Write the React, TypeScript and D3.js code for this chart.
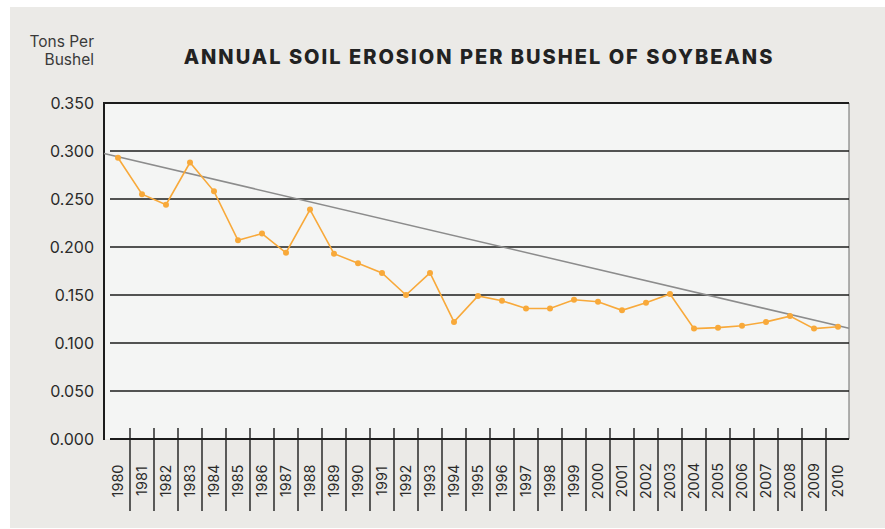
import React from 'react'
import * as d3 from 'd3'

// values
const years = [
  '1980', '1981', '1982', '1983', '1984', '1985', '1986', '1987', '1988', '1989',
  '1990', '1991', '1992', '1993', '1994', '1995', '1996', '1997', '1998', '1999',
  '2000', '2001', '2002', '2003', '2004', '2005', '2006', '2007', '2008', '2009', '2010',
]
const erosion = [
  0.293, 0.255, 0.244, 0.288, 0.258, 0.207, 0.214, 0.194, 0.239, 0.193,
  0.183, 0.173, 0.15, 0.173, 0.122, 0.149, 0.144, 0.136, 0.136, 0.145,
  0.143, 0.134, 0.142, 0.151, 0.115, 0.116, 0.118, 0.122, 0.128, 0.115, 0.117,
]
// trend line value at the first and the last year
const trendYears = [1980, 2010]
const trendValues = [0.294, 0.118]
const yTicks = [0, 0.05, 0.1, 0.15, 0.2, 0.25, 0.3, 0.35]

const title = 'ANNUAL SOIL EROSION PER BUSHEL OF SOYBEANS'
const unitLines = ['Tons Per', 'Bushel']

const W = 885
const H = 529
const plot = { left: 104, right: 849, top: 103, bottom: 439 }
const font = 'Inter, "Noto Sans", sans-serif'

const App: React.FC = () => {
  const x = d3.scaleBand<string>().domain(years).range([106, 850])
  const step = x.step()
  const y = d3.scaleLinear().domain([0, 0.35]).range([plot.bottom, plot.top])

  // year as number -> pixel, used to stretch the trend line to the plot edges
  const xYear = d3
    .scaleLinear()
    .domain([+years[0], +years[years.length - 1]])
    .range([x(years[0])! + step / 2, x(years[years.length - 1])! + step / 2])
  const trend = d3.scaleLinear().domain(trendYears).range(trendValues)
  const tA = xYear.invert(plot.left)
  const tB = xYear.invert(plot.right)

  const line = d3
    .line<number>()
    .x((_, i) => x(years[i])! + step / 2)
    .y((d) => y(d))

  const orange = '#f8a93a'

  return (
    <svg
      width={W}
      height={H}
      style={{ position: 'absolute', left: 0, top: 0 }}
      fontFamily={font}
    >
      <rect x={0} y={0} width={W} height={H} fill="#fff" />
      <rect x={10} y={7} width={W - 10} height={H - 8} fill="#ebeae7" />

      {/* title and unit */}
      <text
        x={479}
        y={64}
        textAnchor="middle"
        fontSize={20}
        fontWeight={800}
        letterSpacing={2}
        fill="#222"
      >
        {title}
      </text>
      {unitLines.map((t, i) => (
        <text key={t} x={94} y={47 + i * 18} textAnchor="end" fontSize={15.5} fill="#3a3a3a">
          {t}
        </text>
      ))}

      {/* plot area */}
      <rect
        x={plot.left}
        y={plot.top}
        width={plot.right - plot.left}
        height={plot.bottom - plot.top}
        fill="#f4f5f4"
      />
      <line x1={plot.right} x2={plot.right} y1={plot.top} y2={plot.bottom} stroke="#6b6b6b" strokeWidth={1} />

      {/* gridlines */}
      {yTicks.map((v) => (
        <line
          key={v}
          x1={v === 0.35 ? plot.left : plot.left + 6}
          x2={plot.right}
          y1={y(v)}
          y2={y(v)}
          stroke="#1c1c1c"
          strokeWidth={v === 0.35 || v === 0 ? 2 : 1.6}
        />
      ))}
      <line x1={plot.left} x2={plot.left} y1={plot.top - 1} y2={plot.bottom + 1} stroke="#1c1c1c" strokeWidth={2} />

      {/* y labels */}
      {yTicks.map((v) => (
        <text key={v} x={94} y={y(v) + 6} textAnchor="end" fontSize={16} fill="#2a2a2a">
          {d3.format('.3f')(v)}
        </text>
      ))}

      {/* x ticks between the years */}
      {years.slice(1).map((yr) => (
        <line
          key={yr}
          x1={x(yr)!}
          x2={x(yr)!}
          y1={428}
          y2={511}
          stroke="#1c1c1c"
          strokeWidth={1.4}
        />
      ))}
      {years.map((yr) => (
        <text
          key={yr}
          transform={`translate(${x(yr)! + step / 2 + 5},${481}) rotate(-90)`}
          textAnchor="middle"
          fontSize={14.5}
          fill="#2a2a2a"
        >
          {yr}
        </text>
      ))}

      {/* trend line */}
      <line
        x1={xYear(tA)}
        x2={xYear(tB)}
        y1={y(trend(tA))}
        y2={y(trend(tB))}
        stroke="#8c8c8c"
        strokeWidth={1.5}
      />

      {/* series */}
      <path d={line(erosion) ?? ''} fill="none" stroke={orange} strokeWidth={1.6} />
      {erosion.map((v, i) => (
        <circle key={years[i]} cx={x(years[i])! + step / 2} cy={y(v)} r={3} fill={orange} />
      ))}
    </svg>
  )
}

export default App
